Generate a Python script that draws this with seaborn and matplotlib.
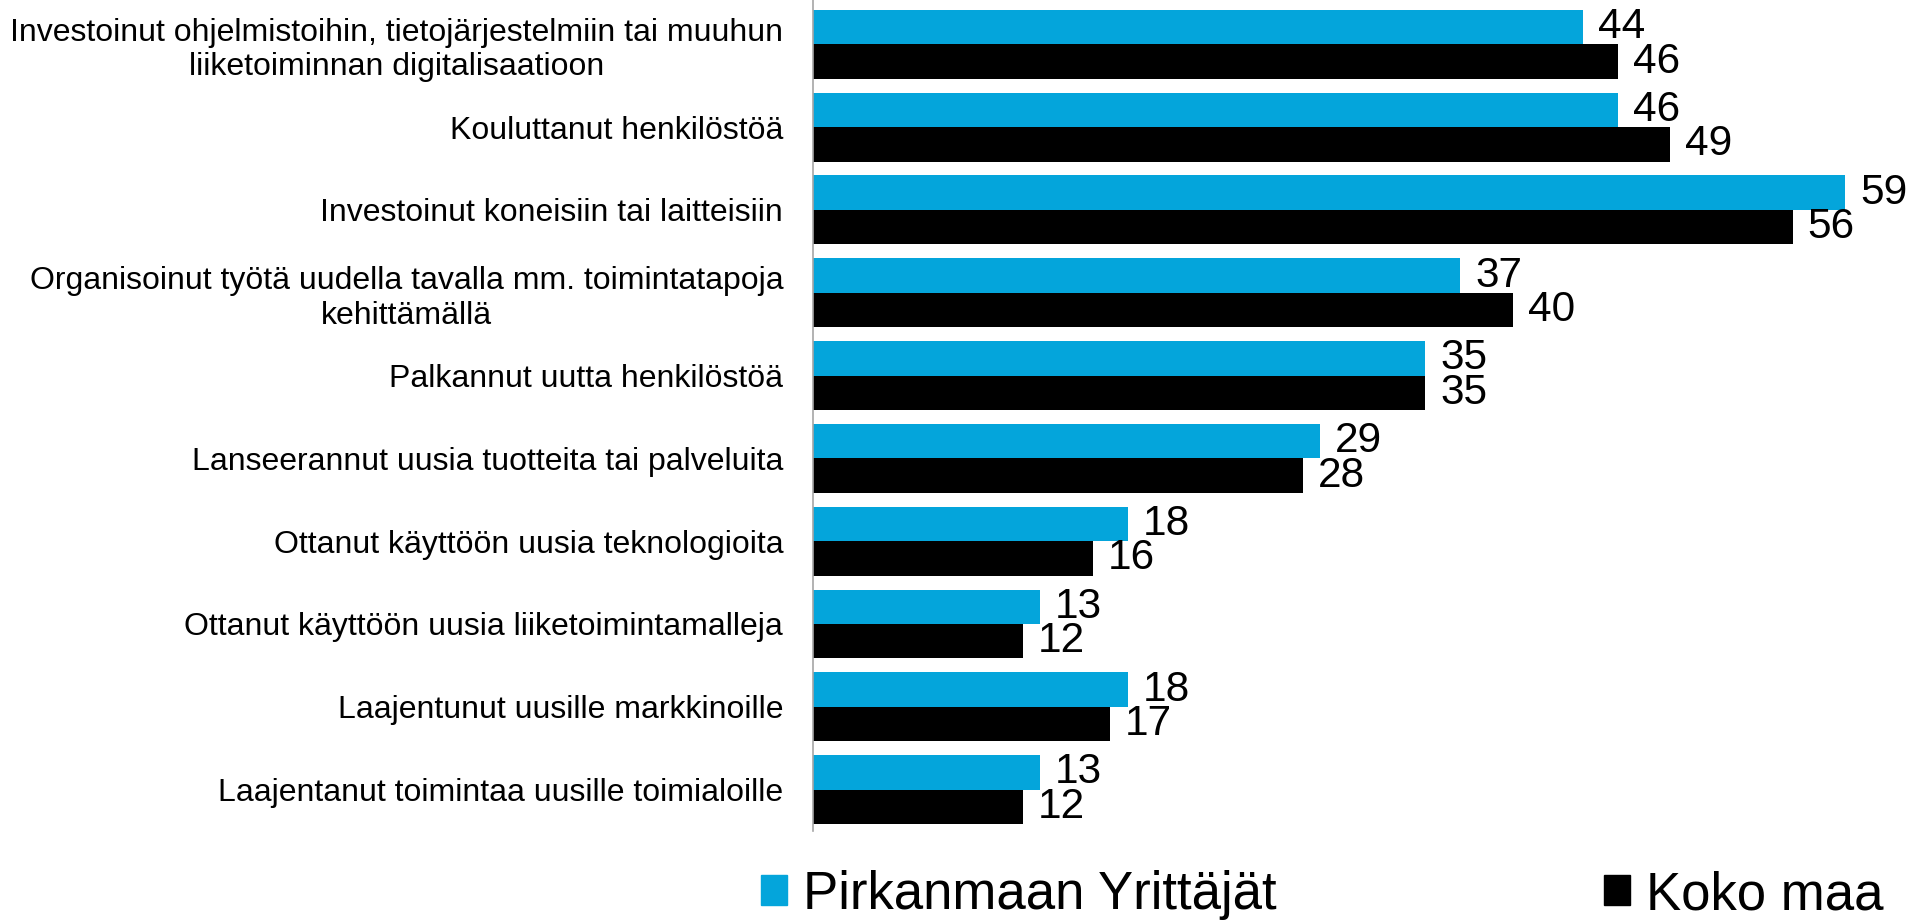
import matplotlib
matplotlib.use('Agg')
import matplotlib.pyplot as plt
import matplotlib.patches as mpatches
import pandas as pd
import seaborn as sns

categories = [
    'Investoinut ohjelmistoihin, tietojärjestelmiin tai muuhun\nliiketoiminnan digitalisaatioon',
    'Kouluttanut henkilöstöä',
    'Investoinut koneisiin tai laitteisiin',
    'Organisoinut työtä uudella tavalla mm. toimintatapoja\nkehittämällä',
    'Palkannut uutta henkilöstöä',
    'Lanseerannut uusia tuotteita tai palveluita',
    'Ottanut käyttöön uusia teknologioita',
    'Ottanut käyttöön uusia liiketoimintamalleja',
    'Laajentunut uusille markkinoille',
    'Laajentanut toimintaa uusille toimialoille',
]
pirkanmaa = [44, 46, 59, 37, 35, 29, 18, 13, 18, 13]
koko_maa = [46, 49, 56, 40, 35, 28, 16, 12, 17, 12]
series = ['Pirkanmaan Yrittäjät', 'Koko maa']
colors = ['#04A5DB', '#000000']

df = pd.DataFrame({
    'kategoria': categories * 2,
    'sarja': [series[0]] * len(categories) + [series[1]] * len(categories),
    'arvo': pirkanmaa + koko_maa,
})

sns.set_style('white')
plt.rcParams['font.family'] = ['Liberation Sans', 'DejaVu Sans']
plt.rcParams['text.color'] = 'black'
plt.rcParams['ytick.color'] = 'black'

fig = plt.figure(figsize=(19.13, 9.21), dpi=100)
ax = fig.add_axes([813 / 1913, 1 - 831 / 921, 1 - 813 / 1913, 831 / 921])

sns.barplot(data=df, y='kategoria', x='arvo', hue='sarja', order=categories,
            hue_order=series, palette=colors, width=0.833, saturation=1,
            legend=False, ax=ax, linewidth=0)

for cont in ax.containers:
    ax.bar_label(cont, fmt='%d', padding=10.5, fontsize=30.5, color='black')

ax.set_xlim(0, 62.86)
ax.set_ylim(9.5, -0.536)
ax.set_xlabel('')
ax.set_ylabel('')
ax.set_xticks([])
ax.tick_params(axis='y', length=0, pad=21.5, labelsize=23, labelcolor='black')
for lbl in ax.get_yticklabels():
    lbl.set_multialignment('center')

for s in ['top', 'right', 'bottom']:
    ax.spines[s].set_visible(False)
ax.spines['left'].set_color('#a6a6a6')
ax.spines['left'].set_linewidth(1.2)

handles = [mpatches.Patch(color=c, label=s) for s, c in zip(series, colors)]
fig.legend(handles=handles, loc='center left', bbox_to_anchor=(761 / 1913, 1 - 895 / 921),
           ncol=2, frameon=False, fontsize=38, handlelength=0.5, handleheight=0.5,
           handletextpad=0.3, columnspacing=6.2, borderpad=0, borderaxespad=0)

fig.savefig('out.png', dpi=100)
